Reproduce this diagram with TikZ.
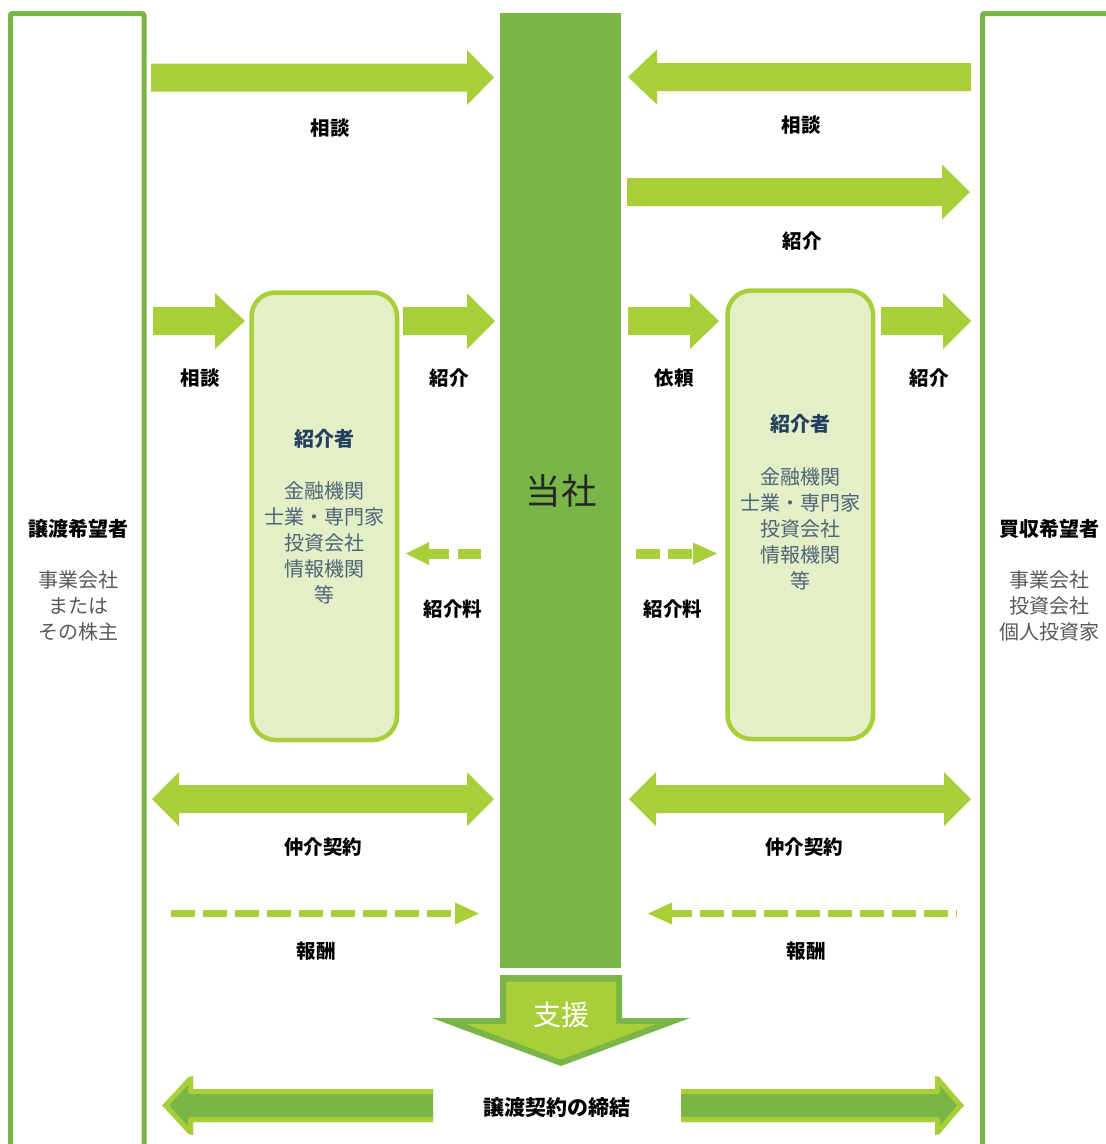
\documentclass[tikz,border=0pt]{standalone}
\usepackage{fontspec}
\setmainfont{Noto Sans CJK JP}
\definecolor{lgreen}{HTML}{A8CE3A}
\definecolor{dgreen}{HTML}{7AB547}
\definecolor{boxfill}{HTML}{E3EFC6}
\definecolor{titleblue}{HTML}{243F60}
\definecolor{bodyblue}{HTML}{4F6478}
\definecolor{sidegray}{HTML}{595959}
\newcommand{\myharr}[7]{%
  \pgfmathsetmacro{\myxb}{#3-(#7)}%
  \fill[#1] (#2,#4-#5) -- (\myxb,#4-#5) -- (\myxb,#4-#6) -- (#3,#4) -- (\myxb,#4+#6) -- (\myxb,#4+#5) -- (#2,#4+#5) -- cycle;}
\newcommand{\mydharr}[7]{%
  \pgfmathsetmacro{\myxa}{#2+#7}%
  \pgfmathsetmacro{\myxc}{#3-#7}%
  \fill[#1] (#2,#4) -- (\myxa,#4-#6) -- (\myxa,#4-#5) -- (\myxc,#4-#5) -- (\myxc,#4-#6) -- (#3,#4) -- (\myxc,#4+#6) -- (\myxc,#4+#5) -- (\myxa,#4+#5) -- (\myxa,#4+#6) -- cycle;}
\tikzset{
  lbl/.style={font=\bfseries\fontsize{19.5}{22}\selectfont, text=black, inner sep=0pt},
  boxtitle/.style={font=\bfseries\fontsize{20}{26}\selectfont, text=titleblue, inner sep=0pt},
  boxbody/.style={font=\fontsize{20}{26}\selectfont, text=bodyblue, align=center, inner sep=0pt},
  sidetitle/.style={font=\bfseries\fontsize{20}{26}\selectfont, text=black, inner sep=0pt},
  sidebody/.style={font=\fontsize{20}{26}\selectfont, text=sidegray, align=center, inner sep=0pt},
  frame/.style={draw=dgreen, line width=5pt, rounded corners=2pt},
  introbox/.style={draw=lgreen, line width=4.5pt, fill=boxfill, rounded corners=24pt},
  lga/.style={fill=lgreen},
  dasharr/.style={draw=lgreen, line width=#1},
}
\begin{document}
\begin{tikzpicture}[x=1pt,y=-1pt]
\useasboundingbox[fill=white] (0,0) rectangle (1106,1144);
% outer frames
\draw[frame] (10.5,1160) -- (10.5,13.5) -- (144,13.5) -- (144,1160);
\draw[frame] (1120,13.5) -- (982.5,13.5) -- (982.5,1160);
% central bar
\fill[dgreen] (500,13) rectangle (621,968);
\node[font=\fontsize{35.5}{40}\selectfont, text=black!85, inner sep=0pt] (company) at (561,491) {当社};
% top arrows
\myharr{lga}{151}{494}{77.5}{14}{27.5}{27}
\myharr{lga}{971}{628}{77}{14}{27.5}{-29}
\myharr{lga}{627}{970}{192}{14}{27.5}{28}
\node[lbl] (l1) at (330,128) {相談};
\node[lbl] (l2) at (801,125) {相談};
\node[lbl] (l3) at (802,241) {紹介};
% small arrows row
\myharr{lga}{153}{245}{321}{14}{28}{30}
\myharr{lga}{403}{495}{321}{14}{28}{28}
\myharr{lga}{628}{719}{321}{14}{28}{29}
\myharr{lga}{881}{971}{321}{14}{28}{28}
\node[lbl] (l4) at (200,378) {相談};
\node[lbl] (l5) at (449,378) {紹介};
\node[lbl] (l6) at (674,378) {依頼};
\node[lbl] (l7) at (929,378) {紹介};
% intro boxes
\draw[introbox] (251.5,292.5) rectangle (397,740);
\draw[introbox] (727.5,290.5) rectangle (873,739);
\node[boxtitle] (t1) at (324,439) {紹介者};
\node[boxbody] (b1) at (324,543) {金融機関\\士業・専門家\\投資会社\\情報機関\\等};
\node[boxtitle] (t2) at (800,424) {紹介者};
\node[boxbody] (b2) at (800,528.5) {金融機関\\士業・専門家\\投資会社\\情報機関\\等};
% dashed fee arrows
\draw[dasharr=10pt, dash pattern=on 23pt off 9pt] (481,553.5) -- (427,553.5);
\fill[lgreen] (429,542) -- (406,553.5) -- (429,565) -- cycle;
\draw[dasharr=10pt, dash pattern=on 24pt off 8pt] (636,553.5) -- (695,553.5);
\fill[lgreen] (693,542.5) -- (717,553.5) -- (693,564.5) -- cycle;
\node[lbl] (l8) at (453,609) {紹介料};
\node[lbl] (l9) at (673,609) {紹介料};
% double arrows
\mydharr{lga}{152}{494}{799}{14}{27}{27}
\mydharr{lga}{629}{971}{799}{14}{27}{27}
\node[lbl] (l10) at (323,847) {仲介契約};
\node[lbl] (l11) at (804,847) {仲介契約};
% reward dashed arrows
\draw[dasharr=7.5pt, dash pattern=on 24.3pt off 7.7pt] (171,913.5) -- (457,913.5);
\fill[lgreen] (455,902.5) -- (479,913.5) -- (455,924.5) -- cycle;
\draw[dasharr=7.5pt, dash pattern=on 24pt off 8pt] (668,913.5) -- (957,913.5);
\fill[lgreen] (672,902.5) -- (648,913.5) -- (672,924.5) -- cycle;
\node[lbl] (l12) at (316,951) {報酬};
\node[lbl] (l13) at (806,951) {報酬};
% side texts
\node[sidetitle] (st1) at (78,529) {譲渡希望者};
\node[sidebody] (sb1) at (78,606) {事業会社\\または\\その株主};
\node[sidetitle] (st2) at (1049,529) {買収希望者};
\node[sidebody] (sb2) at (1049,606) {事業会社\\投資会社\\個人投資家};
% support arrow
\fill[dgreen] (500,975) -- (622,975) -- (622,1018) -- (690,1018) -- (561,1066) -- (432,1018) -- (500,1018) -- cycle;
\fill[lgreen] (506,981.5) -- (616,981.5) -- (616,1024) -- (656,1024) -- (561,1059.6) -- (466,1024) -- (506,1024) -- cycle;
\node[font=\fontsize{28}{32}\selectfont, text=white, inner sep=0pt] (support) at (561,1015) {支援};
% bottom arrows
\fill[dgreen] (433,1089) -- (193,1089) -- (193,1076) -- (162,1105.5) -- (193,1135) -- (193,1122) -- (433,1122) -- cycle;
\draw[lgreen, line width=5pt, line join=round] (433,1091.5) -- (190.5,1091.5) -- (190.5,1078.5) -- (165.5,1105.5) -- (190.5,1132.5) -- (190.5,1119.5) -- (433,1119.5);
\fill[dgreen] (681,1089) -- (935,1089) -- (935,1076) -- (964,1105.5) -- (935,1135) -- (935,1122) -- (681,1122) -- cycle;
\draw[lgreen, line width=5pt, line join=round] (681,1091.5) -- (937.5,1091.5) -- (937.5,1078.5) -- (960.5,1105.5) -- (937.5,1132.5) -- (937.5,1119.5) -- (681,1119.5);
\node[lbl, font=\bfseries\fontsize{21}{24}\selectfont] (contract) at (557,1108) {譲渡契約の締結};
\end{tikzpicture}
\end{document}
